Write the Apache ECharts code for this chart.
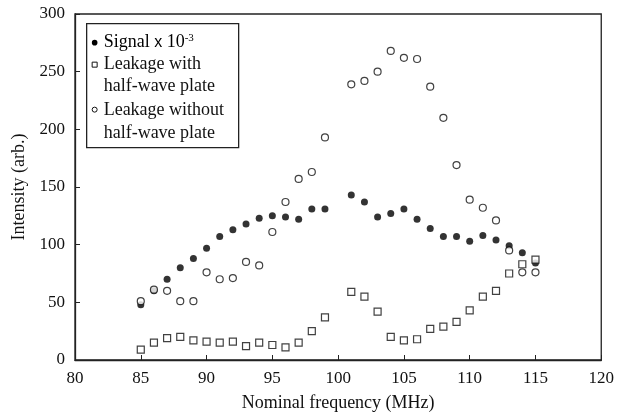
<!DOCTYPE html>
<html>
<head>
<meta charset="utf-8">
<script src="https://cdn.jsdelivr.net/npm/echarts@6/dist/echarts.min.js"></script>
<style>
  html, body { margin: 0; padding: 0; background: #fff; }
  #chart { width: 617px; height: 417px; }
</style>
</head>
<body>
<div id="chart"></div>
<script>
// nominal frequency (MHz)
var freq = [85, 86, 87, 88, 89, 90, 91, 92, 93, 94, 95, 96, 97, 98, 99, 101, 102, 103, 104, 105, 106, 107, 108, 109, 110, 111, 112, 113, 114, 115];
// Signal x 10^-3
var signal = [48, 60, 70, 80, 88, 97, 107, 113, 118, 123, 125, 124, 122, 131, 131, 143, 137, 124, 127, 131, 122, 114, 107, 107, 103, 108, 104, 99, 93, 84];
// leakage with half-wave plate
var leakWith = [9, 15, 19, 20, 17, 16, 15, 16, 12, 15, 13, 11, 15, 25, 37, 59, 55, 42, 20, 17, 18, 27, 29, 33, 43, 55, 60, 75, 83, 87];
// leakage without half-wave plate
var leakWithout = [51, 61, 60, 51, 51, 76, 70, 71, 85, 82, 111, 137, 157, 163, 193, 239, 242, 250, 268, 262, 261, 237, 210, 169, 139, 132, 121, 95, 76, 76];

var xTicks = { min: 80, max: 120, step: 5 };
var yTicks = { min: 0, max: 300, step: 50 };

function pairs(ys) {
	var out = [];
	for (var i = 0; i < freq.length; i++) {
		out.push([freq[i], ys[i]]);
	}
	return out;
}

var font = '"Liberation Serif", "Times New Roman", serif';
var myChart = echarts.init(document.getElementById('chart'));

var option = {
	animation: false,
	backgroundColor: '#fff',
	grid: {
		left: 75, right: 13, top: 14, bottom: 56,
		show: true, borderColor: '#222', borderWidth: 1.3
	},
	xAxis: {
		type: 'value',
		min: xTicks.min, max: xTicks.max, interval: xTicks.step,
		name: 'Nominal frequency (MHz)',
		nameLocation: 'middle',
		nameGap: 34,
		nameTextStyle: { fontFamily: font, fontSize: 18, color: '#111' },
		axisLine: { lineStyle: { color: '#222', width: 1.3 } },
		axisTick: { inside: true, length: 5, lineStyle: { color: '#222' } },
		axisLabel: { fontFamily: font, fontSize: 17, color: '#111', margin: 10 },
		splitLine: { show: false }
	},
	yAxis: {
		type: 'value',
		min: yTicks.min, max: yTicks.max, interval: yTicks.step,
		name: 'Intensity (arb.)',
		nameLocation: 'middle',
		nameGap: 46,
		nameTextStyle: { fontFamily: font, fontSize: 18, color: '#111' },
		axisLine: { lineStyle: { color: '#222', width: 1.3 } },
		axisTick: { inside: true, length: 5, lineStyle: { color: '#222' } },
		axisLabel: { fontFamily: font, fontSize: 17, color: '#111', margin: 10 },
		splitLine: { show: false }
	},
	graphic: [{
		type: 'group',
		left: 86, top: 23,
		children: [
			{ type: 'rect', shape: { x: 0, y: 0, width: 152, height: 124 },
			  style: { fill: '#fff', stroke: '#222', lineWidth: 1.3 } },
			{ type: 'circle', shape: { cx: 8, cy: 19, r: 2.8 }, style: { fill: '#000' } },
			{ type: 'text', x: 17, y: 19,
			  style: { text: '{a|Signal }{b|x}{a| 10}{s|-3}', verticalAlign: 'middle',
			           rich: { a: { fontFamily: font, fontSize: 18, color: '#111' },
			                   b: { fontFamily: '"Liberation Sans", Arial, sans-serif', fontSize: 16, color: '#111' },
			                   s: { fontFamily: font, fontSize: 11, color: '#111', verticalAlign: 'top', padding: [0, 0, 10, 0] } } } },
			{ type: 'rect', shape: { x: 5.5, y: 38.5, width: 5, height: 5 },
			  style: { fill: '#fff', stroke: '#111', lineWidth: 1 } },
			{ type: 'text', x: 17, y: 41,
			  style: { text: 'Leakage with', fontFamily: font, fontSize: 18, fill: '#111', verticalAlign: 'middle' } },
			{ type: 'text', x: 17, y: 63,
			  style: { text: 'half-wave plate', fontFamily: font, fontSize: 18, fill: '#111', verticalAlign: 'middle' } },
			{ type: 'circle', shape: { cx: 8, cy: 86, r: 2.5 },
			  style: { fill: '#fff', stroke: '#111', lineWidth: 1 } },
			{ type: 'text', x: 17, y: 87,
			  style: { text: 'Leakage without', fontFamily: font, fontSize: 18, fill: '#111', verticalAlign: 'middle' } },
			{ type: 'text', x: 17, y: 110,
			  style: { text: 'half-wave plate', fontFamily: font, fontSize: 18, fill: '#111', verticalAlign: 'middle' } }
		]
	}],
	series: [{
		name: 'Signal x 10^-3',
		type: 'scatter',
		symbol: 'circle',
		symbolSize: 7,
		itemStyle: { color: '#000' },
		data: pairs(signal)
	}, {
		name: 'Leakage with half-wave plate',
		type: 'scatter',
		symbol: 'rect',
		symbolSize: 7,
		itemStyle: { color: '#fff', borderColor: '#111', borderWidth: 1.2 },
		data: pairs(leakWith)
	}, {
		name: 'Leakage without half-wave plate',
		type: 'scatter',
		symbol: 'circle',
		symbolSize: 7,
		itemStyle: { color: '#fff', borderColor: '#111', borderWidth: 1.2 },
		data: pairs(leakWithout)
	}]
};
myChart.setOption(option);
</script>
</body>
</html>
